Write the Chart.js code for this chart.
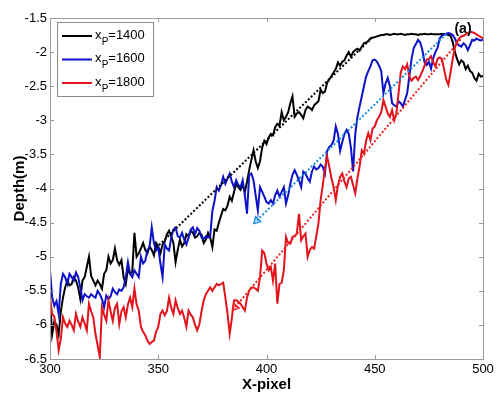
<!DOCTYPE html>
<html>
<head>
<meta charset="utf-8">
<script src="https://cdn.jsdelivr.net/npm/chart.js@4.4.0/dist/chart.umd.min.js"></script>
<style>
  html, body { margin: 0; padding: 0; background: #fff; }
  #wrap { width: 500px; height: 396px; position: relative; }
</style>
</head>
<body>
<div id="wrap"><canvas id="depth-chart"></canvas></div>
<script>
// X position along the profile (pixel index)
const xPixel = [
  300,301,302,303,304,305,306,307,308,309,310,311,312,313,314,315,316,317,318,319,
  320,321,322,323,324,325,326,327,328,329,330,331,332,333,334,335,336,337,338,339,
  340,341,342,343,344,345,346,347,348,349,350,351,352,353,354,355,356,357,358,359,
  360,361,362,363,364,365,366,367,368,369,370,371,372,373,374,375,376,377,378,379,
  380,381,382,383,384,385,386,387,388,389,390,391,392,393,394,395,396,397,398,399,
  400,401,402,403,404,405,406,407,408,409,410,411,412,413,414,415,416,417,418,419,
  420,421,422,423,424,425,426,427,428,429,430,431,432,433,434,435,436,437,438,439,
  440,441,442,443,444,445,446,447,448,449,450,451,452,453,454,455,456,457,458,459,
  460,461,462,463,464,465,466,467,468,469,470,471,472,473,474,475,476,477,478,479,
  480,481,482,483,484,485,486,487,488,489,490,491,492,493,494,495,496,497,498,499,
  500
];

// Depth (m) for xP = 1400
const depth1400 = [
  -5.62,-6.14,-5.95,-6.0,-6.14,-5.8,-5.6,-5.45,-5.35,-5.42,
  -5.4,-5.3,-5.35,-5.45,-5.62,-5.35,-5.3,-5.15,-5.0,-5.28,
  -5.35,-5.42,-5.35,-5.4,-5.47,-5.25,-5.2,-5.0,-5.1,-5.05,
  -4.88,-5.05,-5.12,-5.05,-5.3,-5.4,-5.18,-5.25,-5.22,-4.65,
  -5.0,-4.95,-4.88,-4.8,-4.9,-4.95,-4.85,-4.9,-4.98,-4.8,
  -4.85,-4.95,-4.82,-4.78,-4.67,-4.62,-4.7,-4.8,-5.08,-4.9,
  -4.75,-4.85,-4.8,-4.67,-4.7,-4.62,-4.65,-4.72,-4.7,-4.65,
  -4.68,-4.8,-4.75,-4.65,-4.72,-4.86,-4.6,-4.62,-4.5,-4.4,
  -4.3,-4.32,-4.25,-4.12,-4.18,-4.05,-3.93,-3.98,-4.02,-3.95,
  -4.05,-3.9,-3.73,-3.58,-3.44,-3.6,-3.7,-3.6,-3.4,-3.3,
  -3.35,-3.25,-3.2,-3.22,-3.1,-3.05,-3.08,-2.88,-3.0,-2.95,
  -2.88,-2.75,-2.65,-2.95,-2.9,-2.88,-2.92,-2.97,-2.85,-2.8,
  -2.82,-2.85,-2.78,-2.75,-2.72,-2.55,-2.6,-2.58,-2.45,-2.4,
  -2.35,-2.3,-2.25,-2.15,-2.2,-2.14,-2.12,-2.05,-2.0,-2.07,
  -2.0,-1.97,-1.95,-1.98,-1.92,-1.87,-1.86,-1.84,-1.8,-1.79,
  -1.78,-1.77,-1.76,-1.75,-1.75,-1.74,-1.74,-1.75,-1.74,-1.73,
  -1.74,-1.74,-1.73,-1.74,-1.75,-1.74,-1.74,-1.73,-1.74,-1.74,
  -1.75,-1.74,-1.74,-1.73,-1.74,-1.74,-1.73,-1.74,-1.74,-1.74,
  -1.74,-1.73,-1.74,-1.74,-1.75,-1.76,-1.85,-2.0,-2.1,-2.18,
  -2.12,-2.15,-2.25,-2.2,-2.28,-2.3,-2.38,-2.42,-2.32,-2.36,
  -2.35
];

// Depth (m) for xP = 1600
const depth1600 = [
  -5.2,-5.6,-5.72,-5.65,-5.84,-5.4,-5.25,-5.3,-5.4,-5.25,
  -5.3,-5.35,-5.23,-5.3,-5.45,-5.64,-5.55,-5.58,-5.6,-5.55,
  -5.58,-5.6,-5.5,-5.55,-5.62,-5.74,-5.57,-5.62,-5.58,-5.47,
  -5.52,-5.55,-5.48,-5.5,-5.45,-5.3,-5.08,-5.25,-5.3,-5.2,
  -5.25,-5.3,-5.0,-5.1,-5.06,-4.9,-4.86,-4.57,-4.8,-4.91,
  -4.86,-5.1,-5.3,-4.82,-4.88,-4.91,-4.72,-4.6,-4.57,-4.7,
  -4.72,-4.65,-4.75,-4.82,-4.72,-4.6,-4.57,-4.67,-4.58,-4.62,
  -4.72,-4.74,-4.7,-4.72,-4.7,-4.33,-4.18,-3.98,-4.03,-3.95,
  -3.83,-3.93,-3.85,-3.78,-3.9,-3.98,-3.88,-3.95,-3.98,-3.88,
  -4.1,-4.37,-3.8,-3.78,-3.88,-4.1,-4.32,-3.98,-4.05,-4.12,
  -4.2,-4.22,-4.17,-4.22,-4.1,-4.03,-4.12,-4.05,-3.98,-4.22,
  -4.1,-3.93,-3.8,-3.73,-3.8,-3.88,-3.98,-3.75,-3.78,-3.85,
  -3.9,-3.75,-3.68,-3.72,-3.7,-3.65,-3.68,-3.78,-3.45,-3.39,
  -3.36,-3.3,-3.09,-3.2,-3.45,-3.32,-3.2,-3.14,-3.2,-3.4,
  -3.75,-3.2,-2.95,-2.8,-2.65,-2.5,-2.36,-2.28,-2.21,-2.12,
  -2.11,-2.14,-2.2,-2.28,-2.6,-2.46,-2.38,-2.5,-2.75,-2.78,
  -2.8,-2.72,-2.75,-2.8,-2.7,-2.6,-2.35,-2.1,-1.94,-1.88,
  -1.82,-1.86,-1.97,-2.15,-2.19,-2.14,-2.24,-2.09,-2.0,-1.94,
  -1.8,-1.76,-1.74,-1.73,-1.72,-1.73,-1.75,-1.8,-1.88,-1.9,
  -1.92,-1.87,-1.9,-1.97,-1.9,-1.82,-1.83,-1.8,-1.82,-1.83,
  -1.82
];

// Depth (m) for xP = 1800
const depth1800 = [
  -5.6,-5.84,-5.88,-6.1,-6.37,-6.2,-5.89,-5.98,-6.03,-5.94,
  -6.0,-6.08,-5.84,-5.95,-6.03,-5.89,-5.98,-6.08,-5.69,-5.8,
  -5.89,-6.13,-6.3,-6.47,-5.74,-5.85,-5.94,-5.64,-5.8,-5.94,
  -5.75,-5.69,-5.99,-5.8,-5.74,-5.89,-5.7,-5.6,-5.74,-5.47,
  -5.7,-5.79,-6.03,-6.1,-6.15,-6.23,-6.28,-6.25,-6.23,-6.1,
  -6.03,-5.84,-5.79,-5.86,-5.8,-5.6,-5.75,-5.84,-5.64,-5.75,
  -5.84,-5.79,-5.9,-6.03,-5.79,-5.85,-5.89,-6.0,-6.08,-5.99,
  -5.8,-5.64,-5.55,-5.5,-5.45,-5.5,-5.45,-5.4,-5.42,-5.4,
  -5.38,-5.6,-5.84,-6.13,-5.9,-5.64,-5.64,-5.66,-5.69,-5.74,
  -5.79,-5.6,-5.5,-5.45,-5.45,-5.47,-5.5,-5.3,-4.91,-4.95,
  -5.1,-5.2,-5.15,-5.35,-5.1,-5.69,-5.4,-5.38,-5.2,-4.71,
  -4.8,-4.81,-4.71,-4.7,-4.66,-4.37,-4.76,-4.7,-4.66,-5.0,
  -4.9,-4.86,-4.88,-4.7,-4.51,-4.17,-3.95,-3.7,-3.53,-3.68,
  -3.85,-3.98,-4.17,-3.95,-3.83,-3.78,-3.9,-3.98,-3.85,-3.83,
  -3.95,-4.07,-3.85,-3.68,-3.44,-3.49,-3.3,-3.19,-3.29,-3.12,
  -3.09,-3.0,-2.95,-2.88,-2.7,-2.8,-2.9,-2.95,-2.85,-3.0,
  -2.9,-2.6,-2.3,-2.21,-2.25,-2.18,-2.36,-2.42,-2.38,-2.36,
  -2.41,-2.35,-2.28,-2.2,-2.11,-2.1,-2.06,-2.15,-2.21,-2.1,
  -2.08,-2.1,-2.25,-2.4,-2.48,-2.3,-2.1,-1.94,-1.85,-1.8,
  -1.77,-1.76,-1.74,-1.72,-1.7,-1.71,-1.72,-1.74,-1.76,-1.78,
  -1.8
];

// Dotted trend lines (start, end)
const trend1400X = [349, 449];
const trend1400Y = [-4.87, -1.78];
const trend1600X = [395.5, 483.5];
const trend1600Y = [-4.47, -1.72];
const trend1800X = [385.5, 490];
const trend1800Y = [-5.74, -1.8];

const legendNames = ['1400', '1600', '1800'];
const seriesColors = ['#000000', '#0d12c9', '#e3131b'];

const FONT = '"Liberation Sans", Arial, sans-serif';

function toPoints(xs, ys) {
    return xs.map((x, i) => ({ x: x, y: ys[i] }));
}

// Frame with inward ticks, legend with subscript, panel label
const frameAndLegend = {
    id: 'frameAndLegend',
    afterDatasetsDraw(chart) {
        const ctx = chart.ctx;
        const a = chart.chartArea;
        const xs = chart.scales.x;
        const ys = chart.scales.y;
        ctx.save();

        // axes box
        ctx.strokeStyle = '#9a9a9a';
        ctx.lineWidth = 1;
        ctx.strokeRect(Math.round(a.left) + 0.5, Math.round(a.top) + 0.5,
            Math.round(a.right - a.left), Math.round(a.bottom - a.top));

        // inward tick marks on all four sides
        ctx.beginPath();
        xs.ticks.forEach(t => {
            const px = Math.round(xs.getPixelForValue(t.value)) + 0.5;
            ctx.moveTo(px, a.bottom); ctx.lineTo(px, a.bottom - 4);
            ctx.moveTo(px, a.top); ctx.lineTo(px, a.top + 4);
        });
        ys.ticks.forEach(t => {
            const py = Math.round(ys.getPixelForValue(t.value)) + 0.5;
            ctx.moveTo(a.left, py); ctx.lineTo(a.left + 4, py);
            ctx.moveTo(a.right, py); ctx.lineTo(a.right - 4, py);
        });
        ctx.stroke();

        // legend box
        const bx = 57.5, by = 22.5, bw = 96, bh = 74;
        ctx.fillStyle = '#ffffff';
        ctx.fillRect(bx, by, bw, bh);
        ctx.strokeStyle = '#8a8a8a';
        ctx.strokeRect(bx, by, bw, bh);

        legendNames.forEach((name, i) => {
            const ly = 36 + i * 23.5;
            ctx.strokeStyle = seriesColors[i];
            ctx.lineWidth = 2;
            ctx.beginPath();
            ctx.moveTo(62, ly);
            ctx.lineTo(92, ly);
            ctx.stroke();

            ctx.fillStyle = '#000';
            ctx.textBaseline = 'alphabetic';
            ctx.textAlign = 'left';
            ctx.font = '13px ' + FONT;
            ctx.fillText('x', 95, ly + 2.5);
            ctx.font = '10px ' + FONT;
            ctx.fillText('P', 101.8, ly + 8.5);
            ctx.font = '13px ' + FONT;
            ctx.fillText('=' + name, 108.3, ly + 2.5);
        });

        // panel label
        ctx.fillStyle = '#000';
        ctx.font = 'bold 14px ' + FONT;
        ctx.textAlign = 'center';
        ctx.textBaseline = 'alphabetic';
        ctx.fillText('(a)', 463, 33);

        ctx.restore();
    }
};

const lineBase = {
    borderWidth: 2,
    pointRadius: 0,
    tension: 0,
    fill: false
};

const ctx = document.getElementById('depth-chart').getContext('2d');
new Chart(ctx, {
    type: 'line',
    data: {
        labels: xPixel,
        datasets: [
            Object.assign({}, lineBase, {
                label: 'xP=1400', data: depth1400, borderColor: seriesColors[0], order: 6
            }),
            Object.assign({}, lineBase, {
                label: 'xP=1600', data: depth1600, borderColor: seriesColors[1], order: 5
            }),
            Object.assign({}, lineBase, {
                label: 'xP=1800', data: depth1800, borderColor: seriesColors[2], order: 4
            }),
            {
                label: 'trend 1400', data: toPoints(trend1400X, trend1400Y),
                borderColor: '#000', borderWidth: 2, borderDash: [2, 2],
                pointRadius: 0, order: 2
            },
            {
                label: 'trend 1600', data: toPoints(trend1600X, trend1600Y),
                borderColor: '#1a8de0', borderWidth: 2, borderDash: [2, 2],
                pointRadius: [4, 0], pointStyle: 'triangle', pointRotation: 225.5,
                pointBorderColor: '#1a8de0', pointBackgroundColor: 'rgba(0,0,0,0)',
                pointBorderWidth: 1.5, order: 1
            },
            {
                label: 'trend 1800', data: toPoints(trend1800X, trend1800Y),
                borderColor: '#f02020', borderWidth: 2, borderDash: [2, 2],
                pointRadius: [4, 0], pointStyle: 'triangle', pointRotation: 220.6,
                pointBorderColor: '#f02020', pointBackgroundColor: 'rgba(0,0,0,0)',
                pointBorderWidth: 1.5, order: 0
            }
        ]
    },
    options: {
        animation: false,
        responsive: true,
        maintainAspectRatio: false,
        layout: { padding: { top: 18, right: 17, left: 0, bottom: 0 } },
        plugins: {
            legend: { display: false },
            tooltip: { enabled: false }
        },
        scales: {
            x: {
                type: 'linear',
                min: 300,
                max: 500,
                ticks: {
                    stepSize: 50,
                    padding: 3,
                    color: '#000',
                    font: { family: FONT, size: 13 }
                },
                grid: { display: false, drawTicks: false },
                border: { display: false },
                title: {
                    display: true,
                    text: 'X-pixel',
                    color: '#000',
                    font: { family: FONT, size: 15, weight: 'bold' },
                    padding: { top: 0, bottom: 2 }
                },
                afterFit: function(scale) { scale.height = 37; }
            },
            y: {
                type: 'linear',
                min: -6.5,
                max: -1.5,
                ticks: {
                    stepSize: 0.5,
                    padding: 3,
                    color: '#000',
                    font: { family: FONT, size: 13 },
                    // MATLAB style: -2 rather than -2.0
                    callback: value => String(Math.round(value * 10) / 10)
                },
                grid: { display: false, drawTicks: false },
                border: { display: false },
                title: {
                    display: true,
                    text: 'Depth(m)',
                    color: '#000',
                    font: { family: FONT, size: 15, weight: 'bold' },
                    padding: { top: 11, bottom: 0 }
                },
                afterFit: function(scale) { scale.width = 50; }
            }
        }
    },
    plugins: [frameAndLegend]
});
</script>
</body>
</html>
